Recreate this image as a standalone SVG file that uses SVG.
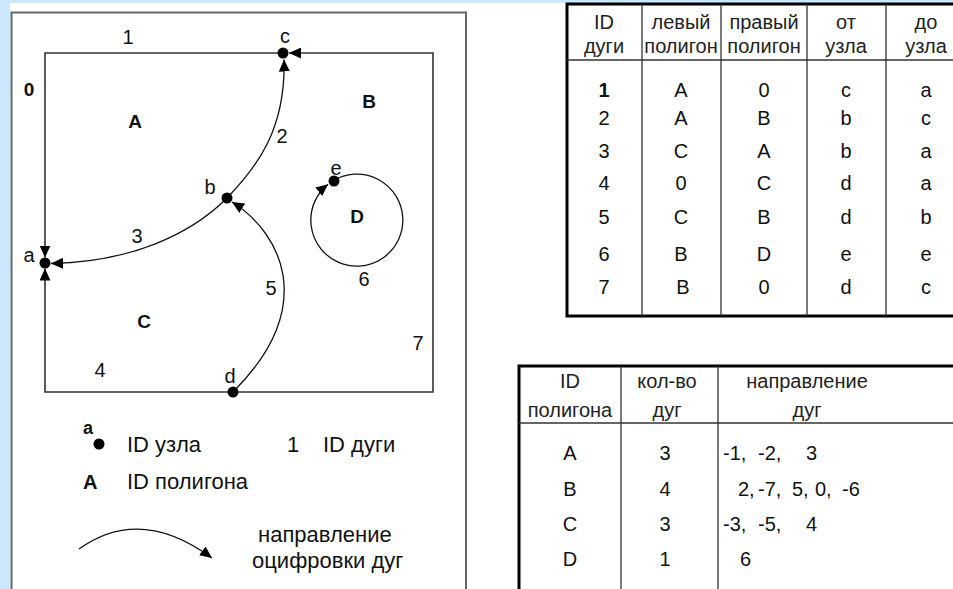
<svg xmlns="http://www.w3.org/2000/svg" width="953" height="589" viewBox="0 0 953 589">
<defs>
<marker id="ah" viewBox="0 0 12 11" refX="12" refY="5.5" markerWidth="12" markerHeight="11" markerUnits="userSpaceOnUse" orient="auto"><path d="M0,0 L12,5.5 L0,11 z" fill="#000"/></marker>
<style>
text{font-family:"Liberation Sans",Arial,sans-serif;fill:#111}
.lbl{font-size:20px;text-anchor:middle}
.poly{font-size:19px;font-weight:bold;text-anchor:middle}
.leg{font-size:22px}
.th{font-size:20px;text-anchor:middle;fill:#222}
.td{font-size:20px;text-anchor:middle;fill:#111}
.tv{font-size:20px;fill:#111}
.arc{fill:none;stroke:#111;stroke-width:1.3}
.edge{fill:none;stroke:#333;stroke-width:1.6}
.node{fill:#000}
.grid{stroke:#333;stroke-width:1.3}
.frame{fill:none;stroke:#000;stroke-width:3}
</style>
</defs>
<rect x="0" y="0" width="953" height="589" fill="#cce8ff"/>
<rect x="10" y="3" width="943" height="586" fill="#fff"/>
<rect x="11.5" y="12.5" width="454.5" height="590" fill="#fff" stroke="#666" stroke-width="2"/>

<g id="connectors">
<path id="arc1" class="edge" d="M283,53 L45,53 L45,257.5" marker-end="url(#ah)"/>
<path id="arc4" class="edge" d="M233,392 L45,392 L45,268.5" marker-end="url(#ah)"/>
<path id="arc7" class="edge" d="M233,392 L433,392 L433,53 L289,53" marker-end="url(#ah)"/>
<path id="arc2" class="arc" d="M227,198 C258,166 286,128 284,59.5" marker-end="url(#ah)"/>
<path id="arc3" class="arc" d="M227,198 C190,235 130,262 51,263.5" marker-end="url(#ah)"/>
<path id="arc5" class="arc" d="M233,392 C265,360 290,320 283,275 C278,245 258,218 232,202" marker-end="url(#ah)"/>
<path id="arc6" class="arc" d="M333.3,180.6 A46,46 0 1 1 328.1,184.2" marker-end="url(#ah)"/>
</g>

<g id="node-a"><circle class="node" cx="45" cy="263" r="5.5"/><text class="lbl" x="29" y="262">a</text></g>
<g id="node-b"><circle class="node" cx="227" cy="198" r="5.5"/><text class="lbl" x="210" y="194">b</text></g>
<g id="node-c"><circle class="node" cx="283" cy="53" r="5.5"/><text class="lbl" x="285" y="43">c</text></g>
<g id="node-d"><circle class="node" cx="233" cy="392" r="5.5"/><text class="lbl" x="230" y="383">d</text></g>
<g id="node-e"><circle class="node" cx="334" cy="181" r="5.5"/><text class="lbl" x="336" y="175">e</text></g>

<g id="arc-labels">
<text class="lbl" x="128" y="44">1</text>
<text class="lbl" x="282" y="143">2</text>
<text class="lbl" x="137" y="243">3</text>
<text class="lbl" x="100" y="377">4</text>
<text class="lbl" x="271" y="295">5</text>
<text class="lbl" x="364" y="286">6</text>
<text class="lbl" x="418" y="350">7</text>
</g>

<g id="polygon-labels">
<text class="poly" x="29" y="96">0</text>
<text class="poly" x="135" y="128">A</text>
<text class="poly" x="369" y="108">B</text>
<text class="poly" x="144" y="328">C</text>
<text class="poly" x="357" y="223">D</text>
</g>

<g id="legend">
<text x="88" y="434" style="font-size:18px;font-weight:bold;text-anchor:middle">a</text>
<circle class="node" cx="99" cy="444" r="5.5"/>
<text class="leg" x="127" y="452">ID узла</text>
<text class="leg" x="287" y="452">1</text>
<text class="leg" x="323" y="452">ID дуги</text>
<text x="83" y="489" style="font-size:20px;font-weight:bold">A</text>
<text class="leg" x="127" y="489">ID полигона</text>
<path class="arc" d="M79,549 Q140,505 212,558" marker-end="url(#ah)"/>
<text class="leg" x="258" y="542">направление</text>
<text class="leg" x="252" y="568">оцифровки дуг</text>
</g>

<g id="arc-table">
<rect class="frame" x="567" y="4" width="400" height="312" fill="#fff"/>
<line class="grid" x1="642" y1="4" x2="642" y2="316"/>
<line class="grid" x1="721" y1="4" x2="721" y2="316"/>
<line class="grid" x1="807" y1="4" x2="807" y2="316"/>
<line class="grid" x1="886" y1="4" x2="886" y2="316"/>
<line class="grid" x1="567" y1="60" x2="953" y2="60"/>
<text class="th" x="604" y="29">ID</text><text class="th" x="604" y="53">дуги</text>
<text class="th" x="681" y="29">левый</text><text class="th" x="681" y="53">полигон</text>
<text class="th" x="764" y="29">правый</text><text class="th" x="764" y="53">полигон</text>
<text class="th" x="846" y="29">от</text><text class="th" x="846" y="53">узла</text>
<text class="th" x="926" y="29">до</text><text class="th" x="926" y="53">узла</text>
<g class="rows">
<text class="td" x="604" y="97" font-weight="bold">1</text><text class="td" x="681" y="97">A</text><text class="td" x="764" y="97">0</text><text class="td" x="846" y="97">c</text><text class="td" x="926" y="97">a</text>
<text class="td" x="604" y="125">2</text><text class="td" x="681" y="125">A</text><text class="td" x="764" y="125">B</text><text class="td" x="846" y="125">b</text><text class="td" x="926" y="125">c</text>
<text class="td" x="604" y="158">3</text><text class="td" x="681" y="158">C</text><text class="td" x="764" y="158">A</text><text class="td" x="846" y="158">b</text><text class="td" x="926" y="158">a</text>
<text class="td" x="604" y="190">4</text><text class="td" x="681" y="190">0</text><text class="td" x="764" y="190">C</text><text class="td" x="846" y="190">d</text><text class="td" x="926" y="190">a</text>
<text class="td" x="604" y="224">5</text><text class="td" x="681" y="224">C</text><text class="td" x="764" y="224">B</text><text class="td" x="846" y="224">d</text><text class="td" x="926" y="224">b</text>
<text class="td" x="604" y="261">6</text><text class="td" x="681" y="261">B</text><text class="td" x="764" y="261">D</text><text class="td" x="846" y="261">e</text><text class="td" x="926" y="261">e</text>
<text class="td" x="604" y="294">7</text><text class="td" x="683" y="294">B</text><text class="td" x="764" y="294">0</text><text class="td" x="846" y="294">d</text><text class="td" x="926" y="294">c</text>
</g>
</g>

<g id="polygon-table">
<rect class="frame" x="519" y="366" width="450" height="240" fill="#fff"/>
<line class="grid" x1="621" y1="366" x2="621" y2="589"/>
<line class="grid" x1="718" y1="366" x2="718" y2="589"/>
<line class="grid" x1="519" y1="423" x2="953" y2="423"/>
<text class="th" x="570" y="388">ID</text><text class="th" x="570" y="417">полигона</text>
<text class="th" x="667" y="388">кол-во</text><text class="th" x="667" y="417">дуг</text>
<text class="th" x="807" y="388">направление</text><text class="th" x="807" y="417">дуг</text>
<text class="td" x="570" y="460">A</text><text class="td" x="665" y="460">3</text>
<text class="tv" x="723" y="460">-1,</text><text class="tv" x="758" y="460">-2,</text><text class="tv" x="806" y="460">3</text>
<text class="td" x="570" y="496">B</text><text class="td" x="665" y="496">4</text>
<text class="tv" x="738" y="496">2,</text><text class="tv" x="758" y="496">-7,</text><text class="tv" x="792" y="496">5,</text><text class="tv" x="815" y="496">0,</text><text class="tv" x="842" y="496">-6</text>
<text class="td" x="570" y="531">C</text><text class="td" x="665" y="531">3</text>
<text class="tv" x="723" y="531">-3,</text><text class="tv" x="758" y="531">-5,</text><text class="tv" x="806" y="531">4</text>
<text class="td" x="570" y="566">D</text><text class="td" x="665" y="566">1</text>
<text class="tv" x="740" y="566">6</text>
</g>
</svg>
